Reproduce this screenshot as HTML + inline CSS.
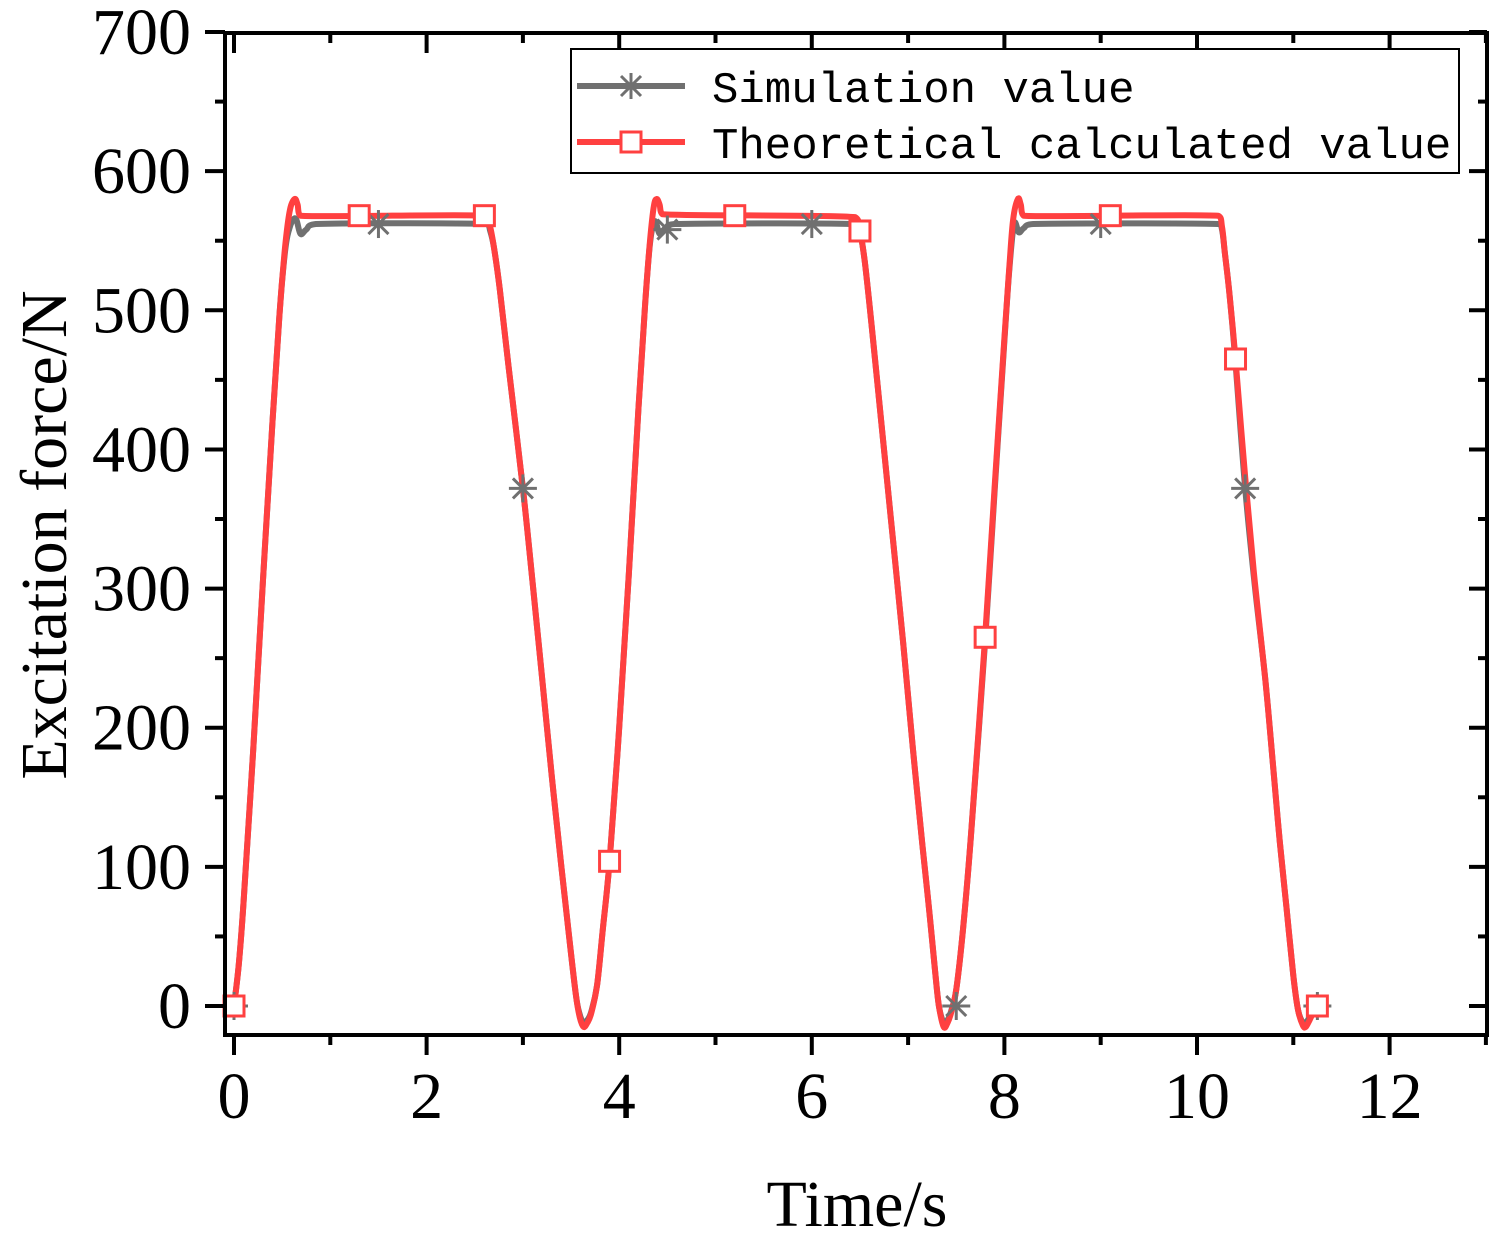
<!DOCTYPE html>
<html><head><meta charset="utf-8"><style>
html,body{margin:0;padding:0;background:#fff;}
svg{display:block;}
</style></head><body>
<svg id="chart" width="1504" height="1241" viewBox="0 0 1504 1241" xmlns="http://www.w3.org/2000/svg">
<g id="plot"></g>
<g id="axes"></g>
<g>
  <rect x="571" y="49" width="888" height="124" fill="#fff" stroke="#000" stroke-width="2"/>
  <g>
    <line x1="577" y1="86" x2="685" y2="86" stroke="#707070" stroke-width="6"/>
    <g stroke="#707070" stroke-width="3"><line x1="618" y1="86" x2="644" y2="86"/><line x1="631" y1="73" x2="631" y2="99"/><line x1="621" y1="76" x2="641" y2="96"/><line x1="641" y1="76" x2="621" y2="96"/></g>
    <text x="712" y="102" font-family="Liberation Mono, monospace" font-size="44">Simulation value</text>
  </g>
  <g>
    <line x1="577" y1="142" x2="685" y2="142" stroke="#ff4040" stroke-width="6"/>
    <rect x="621" y="132" width="20" height="20" fill="#fff" stroke="#ff4040" stroke-width="3"/>
    <text x="712" y="158" font-family="Liberation Mono, monospace" font-size="44">Theoretical calculated value</text>
  </g>
</g>
<text transform="translate(66,535) rotate(-90)" text-anchor="middle" font-family="Liberation Serif, serif" font-size="66">Excitation force/N</text>
<text x="857" y="1226" text-anchor="middle" font-family="Liberation Serif, serif" font-size="66">Time/s</text>
</svg>
<script>
const thT = [0,0.05,0.1,0.2,0.3,0.4,0.47,0.53,0.58,0.63,0.66,0.69,2.62,2.66,2.7,2.76,2.85,3.0,3.1,3.2,3.3,3.4,3.48,3.55,3.59,3.63,3.67,3.71,3.77,3.83,3.9,4.0,4.1,4.2,4.27,4.32,4.36,4.39,4.42,4.45,6.45,6.5,6.55,6.62,6.75,6.85,6.95,7.05,7.15,7.22,7.28,7.32,7.37,7.41,7.45,7.5,7.57,7.65,7.8,7.9,8.0,8.05,8.09,8.14,8.17,8.2,10.22,10.26,10.29,10.34,10.4,10.5,10.6,10.71,10.8,10.86,10.93,11.0,11.05,11.1,11.13,11.17,11.22,11.26];
const thV = [0,30,75,185,305,420,495,545,572,580,576,568,568,560,545,515,460,372,305,235,165,100,50,8,-8,-15,-12,-5,15,55,104,200,310,430,505,550,575,580,576,569,567,557,535,490,400,330,260,185,115,68,25,0,-15,-12,-4,12,55,120,265,375,480,530,565,580,576,568,568,560,541,510,465,380,305,234,165,118,70,22,-3,-14,-15,-10,-3,0];
const simT = [0,0.05,0.1,0.2,0.3,0.4,0.47,0.53,0.58,0.64,0.69,0.75,0.85,2.62,2.66,2.7,2.76,2.85,3.0,3.1,3.2,3.3,3.4,3.48,3.55,3.59,3.63,3.67,3.71,3.77,3.83,3.9,4.0,4.1,4.2,4.27,4.32,4.37,4.42,4.48,4.58,6.45,6.5,6.55,6.62,6.75,6.85,6.95,7.05,7.15,7.22,7.28,7.32,7.37,7.41,7.45,7.5,7.57,7.65,7.8,7.9,8.0,8.05,8.1,8.15,8.2,8.3,10.22,10.26,10.29,10.34,10.4,10.5,10.6,10.71,10.8,10.86,10.93,11.0,11.05,11.1,11.13,11.17,11.22,11.26];
const simV = [0,30,75,185,305,420,495,542,560,566,555,558,562,562,557,545,515,460,372,305,235,165,100,50,8,-6,-12,-10,-4,15,55,104,200,310,430,505,548,564,555,559,562,562,557,535,490,400,330,260,185,115,68,25,0,-12,-10,-3,12,55,120,262,372,478,528,562,556,559,562,562,558,541,510,462,372,302,234,165,118,70,22,-3,-12,-12,-8,-3,0];
const simMarkT = [0,1.5,3,4.5,6,7.5,9,10.5,11.25];
const simMarkV = [0,562,372,558,562,0,562,372,0];
const thMarkT = [0,1.3,2.6,3.9,5.2,6.5,7.8,9.1,10.4,11.25];
const thMarkV = [0,568,568,104,568,557,265,568,465,0];
const xTicks = [0,2,4,6,8,10,12];
const yTicks = [0,100,200,300,400,500,600,700];

const NS='http://www.w3.org/2000/svg';
const X0=234, XS=96.3, Y0=1006, YS=1.3914;
const L=225, R=1487, T=33, B=1035;
function sx(t){return X0+t*XS;}
function sy(v){return Y0-v*YS;}
function mk(tag,attrs,parent){const e=document.createElementNS(NS,tag);for(const k in attrs)e.setAttribute(k,attrs[k]);parent.appendChild(e);return e;}
const plot=document.getElementById('plot');
const axes=document.getElementById('axes');

function smoothPath(ts,vs){
  const p=ts.map((t,i)=>[sx(t),sy(vs[i])]);
  let d='M'+p[0][0].toFixed(1)+','+p[0][1].toFixed(1);
  for(let i=0;i<p.length-1;i++){
    const p0=p[Math.max(0,i-1)],p1=p[i],p2=p[i+1],p3=p[Math.min(p.length-1,i+2)];
    const k=1/6;
    let c1=[p1[0]+(p2[0]-p0[0])*k,p1[1]+(p2[1]-p0[1])*k];
    let c2=[p2[0]-(p3[0]-p1[0])*k,p2[1]-(p3[1]-p1[1])*k];
    c1[0]=Math.min(Math.max(c1[0],p1[0]),p2[0]);c2[0]=Math.min(Math.max(c2[0],p1[0]),p2[0]);
    d+='C'+c1[0].toFixed(1)+','+c1[1].toFixed(1)+' '+c2[0].toFixed(1)+','+c2[1].toFixed(1)+' '+p2[0].toFixed(1)+','+p2[1].toFixed(1);
  }
  return d;
}
const simLine=mk('path',{d:smoothPath(simT,simV),fill:'none',stroke:'#707070','stroke-width':6,'stroke-linejoin':'round'},plot);


const thLine=mk('path',{d:smoothPath(thT,thV),fill:'none',stroke:'#ff4040','stroke-width':6,'stroke-linejoin':'round'},plot);



simMarkT.forEach((t,i)=>{
  const cx=sx(t),cy=sy(simMarkV[i]);
  const g=mk('g',{stroke:'#707070','stroke-width':3},plot);
  
  
  mk('line',{x1:cx-14,y1:cy,x2:cx+14,y2:cy},g);
  mk('line',{x1:cx,y1:cy-14,x2:cx,y2:cy+14},g);
  mk('line',{x1:cx-10,y1:cy-10,x2:cx+10,y2:cy+10},g);
  mk('line',{x1:cx+10,y1:cy-10,x2:cx-10,y2:cy+10},g);
});
thMarkT.forEach((t,i)=>{
  const cx=sx(t),cy=sy(thMarkV[i]);
  const r=mk('rect',{x:cx-10,y:cy-10,width:20,height:20,fill:'#fff',stroke:'#ff4040','stroke-width':3},plot);
  
  
});

const frame=mk('rect',{x:L,y:T,width:R-L,height:B-T,fill:'none',stroke:'#000','stroke-width':4},axes);


for(let t=0;t<=13;t++){
  const x=sx(t),major=t%2===0;
  const tk=mk('line',{x1:x,y1:B,x2:x,y2:B+(major?20:10),stroke:'#000','stroke-width':4},axes);
  
  
  const tk2=mk('line',{x1:x,y1:T,x2:x,y2:T+(major?20:10),stroke:'#000','stroke-width':4},axes);
  
  
}
xTicks.forEach(t=>{
  const lb=mk('text',{x:sx(t),y:1118,'text-anchor':'middle','font-family':'Liberation Serif, serif','font-size':66},axes);
  lb.textContent=t;
  
  
});
for(let v=0;v<=700;v+=50){
  const y=sy(v),major=v%100===0;
  const tk=mk('line',{x1:L,y1:y,x2:L-(major?20:10),y2:y,stroke:'#000','stroke-width':4},axes);
  
  
  const tk2=mk('line',{x1:R,y1:y,x2:R-(major?18:9),y2:y,stroke:'#000','stroke-width':4},axes);
  
  
}
yTicks.forEach(v=>{
  const lb=mk('text',{x:191,y:sy(v)+22,'text-anchor':'end','font-family':'Liberation Serif, serif','font-size':66},axes);
  lb.textContent=v;
  
  
});
</script>
</body></html>
